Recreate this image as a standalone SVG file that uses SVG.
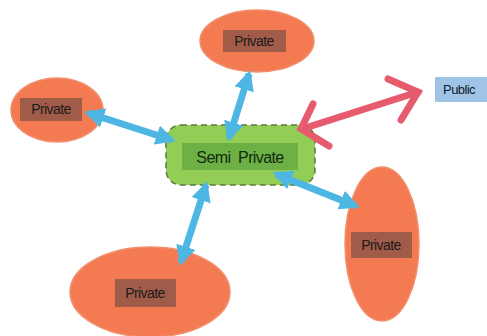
<svg xmlns="http://www.w3.org/2000/svg" width="487" height="336" viewBox="0 0 487 336">
<defs>
<style>
.ell{fill:#f47a52;stroke:#f0906e;stroke-width:1.5}
.lb{fill:#a15c49}
.t{font-family:"Liberation Sans",Arial,sans-serif;font-size:14px;letter-spacing:-0.6px;fill:#1a1a1a;text-anchor:middle;dominant-baseline:central}
.ca{stroke:#4db6e2;stroke-width:7;fill:none;marker-start:url(#ch);marker-end:url(#ch)}
.ra{stroke:#e75b6f;stroke-width:7;fill:none;stroke-linecap:round}
</style>
<marker id="ch" viewBox="0 0 10 10" refX="8" refY="5" markerWidth="20" markerHeight="20" markerUnits="userSpaceOnUse" orient="auto-start-reverse">
<path d="M0,0 L10,5 L0,10 z" fill="#4db6e2"/>
</marker>
</defs>
<rect width="487" height="336" fill="#ffffff"/>
<g id="node-top">
<ellipse class="ell" cx="257" cy="41" rx="57" ry="31"/>
<rect class="lb" x="223" y="30" width="63" height="22"/>
<text class="t" x="254" y="41">Private</text>
</g>
<g id="node-left">
<ellipse class="ell" cx="57" cy="110" rx="46" ry="32"/>
<rect class="lb" x="20" y="98" width="62" height="23"/>
<text class="t" x="51" y="109">Private</text>
</g>
<g id="node-center">
<rect x="166" y="125" width="149" height="60" rx="15" fill="#92cd55" stroke="#5a7a3a" stroke-width="1.5" stroke-dasharray="6,4"/>
<rect x="182" y="143" width="116" height="27" fill="#6cb046"/>
<text class="t" x="240" y="157" style="font-size:16px;fill:#142a0c" xml:space="preserve">Semi  Private</text>
</g>
<g id="node-right">
<ellipse class="ell" cx="382" cy="244" rx="37" ry="77"/>
<rect class="lb" x="351" y="232" width="61" height="26"/>
<text class="t" x="381" y="245">Private</text>
</g>
<g id="node-bottom">
<ellipse class="ell" cx="150" cy="292" rx="80" ry="45"/>
<rect class="lb" x="115" y="279" width="61" height="28"/>
<text class="t" x="145" y="293">Private</text>
</g>
<g id="node-public">
<rect x="435" y="77" width="52" height="25" fill="#9fc4e6"/>
<text class="t" x="459" y="89" style="font-size:13px;fill:#0f1a2a">Public</text>
</g>
<g id="connectors">
<line class="ca" x1="249" y1="74" x2="229" y2="138"/>
<line class="ca" x1="88" y1="113" x2="172" y2="140"/>
<line class="ca" x1="206" y1="185" x2="181" y2="262"/>
<line class="ca" x1="276" y1="174" x2="356" y2="206"/>
<line class="ra" x1="302" y1="129" x2="418" y2="92"/>
<polyline class="ra" points="313,104 301,129 329,146"/>
<polyline class="ra" points="388,79 418,92 401,120"/>
</g>
</svg>
